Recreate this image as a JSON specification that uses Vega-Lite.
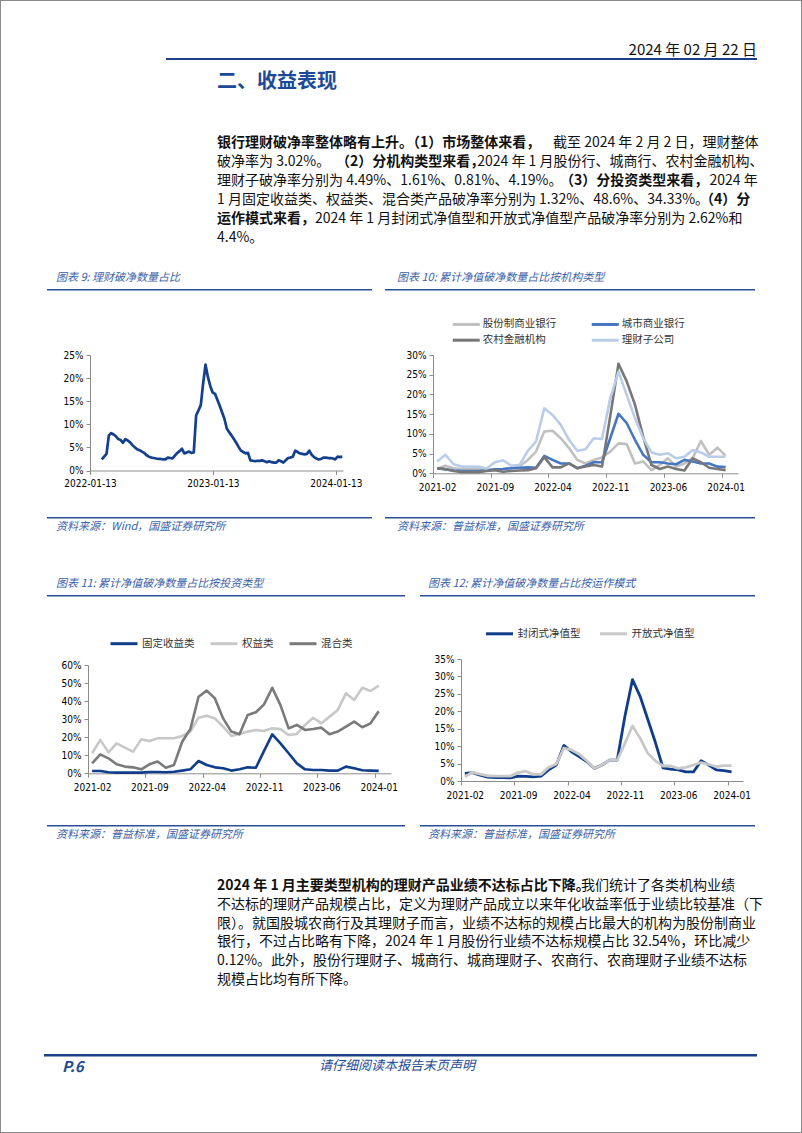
{
  "$schema": "https://vega.github.io/schema/vega-lite/v6.json",
  "padding": 0,
  "background": "#ffffff",
  "bounds": "flush",
  "spacing": 0,
  "resolve": {"scale": {"color": "independent"}, "legend": {"color": "independent"}},
  "config": {
    "view": {"stroke": null},
    "font": "Noto Sans CJK SC",
    "axis": {"labelFont": "'DejaVu Sans Condensed', 'Liberation Sans', sans-serif", "labelFontSize": 10, "labelColor": "#000000", "domainColor": "#8C8C8C", "tickColor": "#8C8C8C", "tickSize": 4, "grid": false, "labelPadding": 3},
    "axisX": {"labelPadding": 5},
    "legend": {"labelFont": "Noto Sans CJK SC", "labelFontSize": 10.5, "labelColor": "#333333", "symbolType": "stroke", "symbolStrokeWidth": 3, "symbolSize": 729, "labelOffset": 3, "title": null},
    "title": {"font": "Noto Sans CJK SC", "fontSize": 11, "fontStyle": "italic", "fontWeight": "normal", "color": "#3A62A8", "anchor": "start", "frame": "group"}
  },
  "vconcat": [
    {"hconcat": [
      {"width": 1, "height": 1133, "data": {"values": []}, "mark": "text", "encoding": {}, "view": {"fill": "#8A8A8A", "stroke": null}}
    ], "spacing": 0, "bounds": "flush"},
    {"hconcat": [
      {"width": 801, "height": 1, "data": {"values": []}, "mark": "text", "encoding": {}},
      {"width": 1, "height": 1133, "data": {"values": []}, "mark": "text", "encoding": {}, "view": {"fill": "#8A8A8A", "stroke": null}}
    ], "spacing": 0, "bounds": "flush"},
    {"hconcat": [
      {"width": 802, "height": 1, "data": {"values": []}, "mark": "text", "encoding": {}, "view": {"fill": "#8A8A8A", "stroke": null}}
    ], "spacing": 0, "bounds": "flush"},
    {"width": 1, "height": 58, "data": {"values": []}, "mark": "text", "encoding": {}},
    {"hconcat": [
      {"width": 166, "height": 2, "data": {"values": []}, "mark": "text", "encoding": {}},
      {"width": 591, "height": 2, "data": {"values": []}, "mark": "text", "encoding": {}, "view": {"fill": "#1D3F87", "stroke": null},
       "title": {"text": "2024 年 02 月 22 日", "orient": "top", "anchor": "end", "offset": 0, "fontSize": 15, "fontStyle": "normal", "color": "#111111"}}
    ], "spacing": 0, "bounds": "flush"},
    {"width": 1, "height": 75, "data": {"values": []}, "mark": "text", "encoding": {}},
    {"hconcat": [
      {"width": 217, "height": 114.6, "data": {"values": []}, "mark": "text", "encoding": {}},
      {"width": 540, "height": 114.6,
       "title": {"text": "二、收益表现", "orient": "top", "anchor": "start", "offset": 41, "fontSize": 20, "fontStyle": "normal", "fontWeight": "bold", "color": "#1C4A98"},
       "data": {"values": [
         {"line": 1, "r": "\u200b\u3000\u3000\u3000\u3000\u3000\u3000\u3000\u3000\u3000\u3000\u3000\u3000\u3000\u3000\u3000\u3000\u3000\u3000\u3000\u3000\u3000\u3000\u3000\u3000截至 2024 年 2 月 2 日，理财整体", "b": "银行理财破净率整体略有上升。（1）市场整体来看，"},
         {"line": 2, "r": "破净率为 3.02%。\u3000\u3000\u3000\u3000\u3000\u3000\u3000\u3000\u3000\u3000\u30002024 年 1 月股份行、城商行、农村金融机构、", "b": "\u200b\u3000\u3000\u3000\u3000\u3000\u3000\u3000\u3000\u2002（2）分机构类型来看，"},
         {"line": 3, "r": "理财子破净率分别为 4.49%、1.61%、0.81%、4.19%。\u3000\u3000\u3000\u3000\u3000\u3000\u3000\u3000\u3000\u3000\u30002024 年", "b": "\u200b\u3000\u3000\u3000\u3000\u3000\u3000\u3000\u3000\u3000\u3000\u3000\u3000\u3000\u3000\u3000\u3000\u3000\u3000\u3000\u3000\u3000\u3000\u3000\u3000\u3000（3）分投资类型来看，"},
         {"line": 4, "r": "1 月固定收益类、权益类、混合类产品破净率分别为 1.32%、48.6%、34.33%。", "b": "\u200b\u3000\u3000\u3000\u3000\u3000\u3000\u3000\u3000\u3000\u3000\u3000\u3000\u3000\u3000\u3000\u3000\u3000\u3000\u3000\u3000\u3000\u3000\u3000\u3000\u3000\u3000\u3000\u3000\u3000\u3000\u3000\u3000\u3000\u3000\u2002（4）分"},
         {"line": 5, "r": "\u200b\u3000\u3000\u3000\u3000\u3000\u3000\u30002024 年 1 月封闭式净值型和开放式净值型产品破净率分别为 2.62%和", "b": "运作模式来看，"},
         {"line": 6, "r": "4.4%。", "b": ""}
       ]},
       "encoding": {
         "x": {"value": 0},
         "y": {"field": "line", "type": "ordinal", "axis": null, "scale": {"type": "point", "padding": 0.5}}
       },
       "layer": [
         {"mark": {"type": "text", "align": "left", "baseline": "middle", "font": "Noto Sans CJK SC", "fontSize": 14, "color": "#111111"}, "encoding": {"text": {"field": "r"}}},
         {"mark": {"type": "text", "align": "left", "baseline": "middle", "font": "Noto Sans CJK SC", "fontSize": 14, "fontWeight": "bold", "color": "#111111"}, "encoding": {"text": {"field": "b"}}}
       ]}
    ], "spacing": 0, "bounds": "flush"},
    {"width": 1, "height": 156, "data": {"values": []}, "mark": "text", "encoding": {}},
    {"hconcat": [
      {"width": 47, "height": 2, "data": {"values": []}, "mark": "text", "encoding": {}},
      {"width": 325, "height": 1.5, "data": {"values": []}, "mark": "text", "encoding": {}, "view": {"fill": "#2A4F96", "stroke": null},
       "title": {"text": "图表 9:  理财破净数量占比", "orient": "top", "offset": 6, "dx": 9}},
      {"width": 13, "height": 2, "data": {"values": []}, "mark": "text", "encoding": {}},
      {"width": 370, "height": 1.5, "data": {"values": []}, "mark": "text", "encoding": {}, "view": {"fill": "#2A4F96", "stroke": null},
       "title": {"text": "图表 10:  累计净值破净数量占比按机构类型", "orient": "top", "offset": 6, "dx": 12}}
    ], "spacing": 0, "bounds": "flush"},
    {"width": 1, "height": 66, "data": {"values": []}, "mark": "text", "encoding": {}},
    {"hconcat": [
      {"width": 90, "height": 1, "data": {"values": []}, "mark": "text", "encoding": {}},
      {"width": 253, "height": 115.5,
       "data": {"values": [
         {"d": "2022-02-17", "v": 2.4}, {"d": "2022-02-24", "v": 3.0}, {"d": "2022-03-03", "v": 3.6}, {"d": "2022-03-10", "v": 7.6}, {"d": "2022-03-17", "v": 8.1}, {"d": "2022-03-24", "v": 7.8}, {"d": "2022-03-31", "v": 7.4}, {"d": "2022-04-07", "v": 6.8}, {"d": "2022-04-14", "v": 6.6}, {"d": "2022-04-21", "v": 6.0}, {"d": "2022-04-28", "v": 6.8}, {"d": "2022-05-05", "v": 6.5}, {"d": "2022-05-12", "v": 6.1}, {"d": "2022-05-19", "v": 5.5}, {"d": "2022-05-26", "v": 5.0}, {"d": "2022-06-02", "v": 4.6}, {"d": "2022-06-09", "v": 4.4}, {"d": "2022-06-16", "v": 4.1}, {"d": "2022-06-23", "v": 3.8}, {"d": "2022-06-30", "v": 3.3}, {"d": "2022-07-07", "v": 3.0}, {"d": "2022-07-14", "v": 2.8}, {"d": "2022-07-21", "v": 2.7}, {"d": "2022-07-28", "v": 2.6}, {"d": "2022-08-04", "v": 2.5}, {"d": "2022-08-11", "v": 2.5}, {"d": "2022-08-18", "v": 2.4}, {"d": "2022-08-25", "v": 2.4}, {"d": "2022-09-01", "v": 2.8}, {"d": "2022-09-08", "v": 2.7}, {"d": "2022-09-15", "v": 2.6}, {"d": "2022-09-22", "v": 3.2}, {"d": "2022-09-29", "v": 3.8}, {"d": "2022-10-06", "v": 4.2}, {"d": "2022-10-13", "v": 4.7}, {"d": "2022-10-20", "v": 3.7}, {"d": "2022-10-27", "v": 3.9}, {"d": "2022-11-03", "v": 4.1}, {"d": "2022-11-10", "v": 3.8}, {"d": "2022-11-17", "v": 3.9}, {"d": "2022-11-24", "v": 11.9}, {"d": "2022-12-01", "v": 13.0}, {"d": "2022-12-08", "v": 14.2}, {"d": "2022-12-15", "v": 19.0}, {"d": "2022-12-22", "v": 22.9}, {"d": "2022-12-29", "v": 20.2}, {"d": "2023-01-05", "v": 18.3}, {"d": "2023-01-12", "v": 16.9}, {"d": "2023-01-19", "v": 16.6}, {"d": "2023-01-26", "v": 15.3}, {"d": "2023-02-02", "v": 14.0}, {"d": "2023-02-09", "v": 12.6}, {"d": "2023-02-16", "v": 11.2}, {"d": "2023-02-23", "v": 9.1}, {"d": "2023-03-02", "v": 8.3}, {"d": "2023-03-09", "v": 7.6}, {"d": "2023-03-16", "v": 6.8}, {"d": "2023-03-23", "v": 6.0}, {"d": "2023-03-30", "v": 5.1}, {"d": "2023-04-06", "v": 4.3}, {"d": "2023-04-13", "v": 4.0}, {"d": "2023-04-20", "v": 3.7}, {"d": "2023-04-27", "v": 3.8}, {"d": "2023-05-04", "v": 2.2}, {"d": "2023-05-11", "v": 2.1}, {"d": "2023-05-18", "v": 2.0}, {"d": "2023-05-25", "v": 2.1}, {"d": "2023-06-01", "v": 2.1}, {"d": "2023-06-08", "v": 2.2}, {"d": "2023-06-15", "v": 2.0}, {"d": "2023-06-22", "v": 1.8}, {"d": "2023-06-29", "v": 2.0}, {"d": "2023-07-06", "v": 1.8}, {"d": "2023-07-13", "v": 1.7}, {"d": "2023-07-20", "v": 1.7}, {"d": "2023-07-27", "v": 2.2}, {"d": "2023-08-03", "v": 2.0}, {"d": "2023-08-10", "v": 1.7}, {"d": "2023-08-17", "v": 2.2}, {"d": "2023-08-24", "v": 2.7}, {"d": "2023-08-31", "v": 2.8}, {"d": "2023-09-07", "v": 3.0}, {"d": "2023-09-14", "v": 4.3}, {"d": "2023-09-21", "v": 4.0}, {"d": "2023-09-28", "v": 3.7}, {"d": "2023-10-05", "v": 3.6}, {"d": "2023-10-12", "v": 3.5}, {"d": "2023-10-19", "v": 3.6}, {"d": "2023-10-26", "v": 4.3}, {"d": "2023-11-02", "v": 3.4}, {"d": "2023-11-09", "v": 2.9}, {"d": "2023-11-16", "v": 2.6}, {"d": "2023-11-23", "v": 2.4}, {"d": "2023-11-30", "v": 2.5}, {"d": "2023-12-07", "v": 2.8}, {"d": "2023-12-14", "v": 2.8}, {"d": "2023-12-21", "v": 2.7}, {"d": "2023-12-28", "v": 2.7}, {"d": "2024-01-04", "v": 2.6}, {"d": "2024-01-11", "v": 2.4}, {"d": "2024-01-18", "v": 3.0}, {"d": "2024-01-25", "v": 2.9}, {"d": "2024-02-01", "v": 3.0}
       ]},
       "mark": {"type": "line", "color": "#133F8D", "strokeWidth": 2.7, "strokeJoin": "round"},
       "encoding": {
         "x": {"field": "d", "type": "temporal", "title": null,
               "scale": {"domain": [{"year": 2022, "month": 1, "date": 13}, {"year": 2024, "month": 2, "date": 3}], "nice": false},
               "axis": {"values": [{"year": 2022, "month": 1, "date": 13}, {"year": 2023, "month": 1, "date": 13}, {"year": 2024, "month": 1, "date": 13}], "format": "%Y-%m-%d", "labelFlush": false, "labelOverlap": false, "labelPadding": 4}},
         "y": {"field": "v", "type": "quantitative", "title": null, "scale": {"domain": [0, 25], "nice": false},
               "axis": {"values": [0, 5, 10, 15, 20, 25], "labelExpr": "datum.value + '%'"}}
       }},
      {"width": 90, "height": 1, "data": {"values": []}, "mark": "text", "encoding": {}},
      {"width": 305, "height": 118.3,
       "data": {"values": [
         {"m": "2021-02", "股份制商业银行": 1.1, "城市商业银行": 1.3, "农村金融机构": 1.3, "理财子公司": 3.0},
         {"m": "2021-03", "股份制商业银行": 1.9, "城市商业银行": 1.0, "农村金融机构": 1.1, "理财子公司": 4.7},
         {"m": "2021-04", "股份制商业银行": 1.3, "城市商业银行": 0.7, "农村金融机构": 0.6, "理财子公司": 2.3},
         {"m": "2021-05", "股份制商业银行": 1.1, "城市商业银行": 0.6, "农村金融机构": 0.3, "理财子公司": 1.7},
         {"m": "2021-06", "股份制商业银行": 1.1, "城市商业银行": 0.6, "农村金融机构": 0.3, "理财子公司": 1.7},
         {"m": "2021-07", "股份制商业银行": 1.1, "城市商业银行": 0.6, "农村金融机构": 0.3, "理财子公司": 1.7},
         {"m": "2021-08", "股份制商业银行": 0.8, "城市商业银行": 0.7, "农村金融机构": 0.6, "理财子公司": 1.2},
         {"m": "2021-09", "股份制商业银行": 1.0, "城市商业银行": 1.0, "农村金融机构": 0.8, "理财子公司": 2.8},
         {"m": "2021-10", "股份制商业银行": 1.1, "城市商业银行": 1.1, "农村金融机构": 0.4, "理财子公司": 3.3},
         {"m": "2021-11", "股份制商业银行": 1.3, "城市商业银行": 1.3, "农村金融机构": 0.6, "理财子公司": 1.9},
         {"m": "2021-12", "股份制商业银行": 1.7, "城市商业银行": 1.4, "农村金融机构": 0.7, "理财子公司": 2.1},
         {"m": "2022-01", "股份制商业银行": 3.4, "城市商业银行": 1.5, "农村金融机构": 0.8, "理财子公司": 5.7},
         {"m": "2022-02", "股份制商业银行": 5.5, "城市商业银行": 1.4, "农村金融机构": 1.3, "理财子公司": 8.1},
         {"m": "2022-03", "股份制商业银行": 10.6, "城市商业银行": 4.4, "农村金融机构": 4.1, "理财子公司": 16.5},
         {"m": "2022-04", "股份制商业银行": 10.8, "城市商业银行": 3.4, "农村金融机构": 1.5, "理财子公司": 14.8},
         {"m": "2022-05", "股份制商业银行": 8.9, "城市商业银行": 2.5, "农村金融机构": 1.5, "理财子公司": 12.3},
         {"m": "2022-06", "股份制商业银行": 6.4, "城市商业银行": 2.5, "农村金融机构": 2.5, "理财子公司": 8.5},
         {"m": "2022-07", "股份制商业银行": 3.4, "城市商业银行": 1.3, "农村金融机构": 1.3, "理财子公司": 5.7},
         {"m": "2022-08", "股份制商业银行": 2.5, "城市商业银行": 1.9, "农村金融机构": 1.7, "理财子公司": 6.1},
         {"m": "2022-09", "股份制商业银行": 3.4, "城市商业银行": 2.8, "农村金融机构": 2.1, "理财子公司": 8.9},
         {"m": "2022-10", "股份制商业银行": 4.0, "城市商业银行": 2.8, "农村金融机构": 1.7, "理财子公司": 8.7},
         {"m": "2022-11", "股份制商业银行": 5.5, "城市商业银行": 8.9, "农村金融机构": 14.5, "理财子公司": 19.0},
         {"m": "2022-12", "股份制商业银行": 7.6, "城市商业银行": 15.1, "农村金融机构": 27.8, "理财子公司": 25.8},
         {"m": "2023-01", "股份制商业银行": 7.4, "城市商业银行": 12.7, "农村金融机构": 23.3, "理财子公司": 19.9},
         {"m": "2023-02", "股份制商业银行": 2.5, "城市商业银行": 8.5, "农村金融机构": 17.4, "理财子公司": 14.0},
         {"m": "2023-03", "股份制商业银行": 3.0, "城市商业银行": 4.7, "农村金融机构": 9.3, "理财子公司": 8.9},
         {"m": "2023-04", "股份制商业银行": 0.8, "城市商业银行": 2.8, "农村金融机构": 2.1, "理财子公司": 5.3},
         {"m": "2023-05", "股份制商业银行": 2.1, "城市商业银行": 2.8, "农村金融机构": 1.1, "理财子公司": 4.7},
         {"m": "2023-06", "股份制商业银行": 3.8, "城市商业银行": 2.5, "农村金融机构": 1.7, "理财子公司": 5.1},
         {"m": "2023-07", "股份制商业银行": 1.7, "城市商业银行": 2.3, "农村金融机构": 1.1, "理财子公司": 3.8},
         {"m": "2023-08", "股份制商业银行": 2.5, "城市商业银行": 3.4, "农村金融机构": 0.7, "理财子公司": 4.2},
         {"m": "2023-09", "股份制商业银行": 3.8, "城市商业银行": 3.0, "农村金融机构": 3.8, "理财子公司": 5.9},
         {"m": "2023-10", "股份制商业银行": 8.2, "城市商业银行": 2.5, "农村金融机构": 2.8, "理财子公司": 5.3},
         {"m": "2023-11", "股份制商业银行": 4.7, "城市商业银行": 2.5, "农村金融机构": 1.4, "理财子公司": 4.2},
         {"m": "2023-12", "股份制商业银行": 6.5, "城市商业银行": 1.7, "农村金融机构": 1.1, "理财子公司": 4.2},
         {"m": "2024-01", "股份制商业银行": 4.49, "城市商业银行": 1.61, "农村金融机构": 0.81, "理财子公司": 4.19}
       ]},
       "transform": [{"fold": ["股份制商业银行", "城市商业银行", "农村金融机构", "理财子公司"], "as": ["s", "v"]}],
       "mark": {"type": "line", "strokeWidth": 2.6, "strokeJoin": "round"},
       "encoding": {
         "x": {"field": "m", "type": "ordinal", "title": null,
               "scale": {"type": "point", "padding": 0.5, "domain": ["2021-02","2021-03","2021-04","2021-05","2021-06","2021-07","2021-08","2021-09","2021-10","2021-11","2021-12","2022-01","2022-02","2022-03","2022-04","2022-05","2022-06","2022-07","2022-08","2022-09","2022-10","2022-11","2022-12","2023-01","2023-02","2023-03","2023-04","2023-05","2023-06","2023-07","2023-08","2023-09","2023-10","2023-11","2023-12","2024-01","2024-02"]},
               "axis": {"values": ["2021-02","2021-09","2022-04","2022-11","2023-06","2024-01"], "labelAngle": 0, "tickOffset": -4.12, "labelOffset": 4.12}},
         "y": {"field": "v", "type": "quantitative", "title": null, "scale": {"domain": [0, 30], "nice": false},
               "axis": {"values": [0, 5, 10, 15, 20, 25, 30], "labelExpr": "datum.value + '%'"}},
         "color": {"field": "s", "type": "nominal",
                   "scale": {"domain": ["股份制商业银行", "城市商业银行", "农村金融机构", "理财子公司"], "range": ["#C0C0C0", "#4677C2", "#777777", "#BACDE8"]},
                   "legend": {"orient": "none", "legendX": 24.75, "legendY": -39.3, "columns": 2, "direction": "horizontal", "symbolType": "M-2,0H2", "symbolSize": 182.25, "labelOffset": 8, "columnPadding": 29, "rowPadding": 1}}
       }}
    ], "spacing": 0, "bounds": "flush", "resolve": {"scale": {"color": "independent"}, "legend": {"color": "independent"}}},
    {"width": 1, "height": 162, "data": {"values": []}, "mark": "text", "encoding": {}},
    {"hconcat": [
      {"width": 47, "height": 2, "data": {"values": []}, "mark": "text", "encoding": {}},
      {"width": 325, "height": 1.5, "data": {"values": []}, "mark": "text", "encoding": {}, "view": {"fill": "#2A4F96", "stroke": null},
       "title": {"text": "资料来源：Wind，国盛证券研究所", "orient": "bottom", "offset": 2, "dx": 9}},
      {"width": 13, "height": 2, "data": {"values": []}, "mark": "text", "encoding": {}},
      {"width": 370, "height": 1.5, "data": {"values": []}, "mark": "text", "encoding": {}, "view": {"fill": "#2A4F96", "stroke": null},
       "title": {"text": "资料来源：普益标准，国盛证券研究所", "orient": "bottom", "offset": 2, "dx": 12}}
    ], "spacing": 0, "bounds": "flush"},
    {"width": 1, "height": 78, "data": {"values": []}, "mark": "text", "encoding": {}},
    {"hconcat": [
      {"width": 47, "height": 2, "data": {"values": []}, "mark": "text", "encoding": {}},
      {"width": 358, "height": 1.5, "data": {"values": []}, "mark": "text", "encoding": {}, "view": {"fill": "#2A4F96", "stroke": null},
       "title": {"text": "图表 11:  累计净值破净数量占比按投资类型", "orient": "top", "offset": 6, "dx": 9}},
      {"width": 15, "height": 2, "data": {"values": []}, "mark": "text", "encoding": {}},
      {"width": 335, "height": 1.5, "data": {"values": []}, "mark": "text", "encoding": {}, "view": {"fill": "#2A4F96", "stroke": null},
       "title": {"text": "图表 12:  累计净值破净数量占比按运作模式", "orient": "top", "offset": 6, "dx": 8}}
    ], "spacing": 0, "bounds": "flush"},
    {"width": 1, "height": 64, "data": {"values": []}, "mark": "text", "encoding": {}},
    {"hconcat": [
      {"width": 88, "height": 1, "data": {"values": []}, "mark": "text", "encoding": {}},
      {"vconcat": [
        {"width": 1, "height": 6, "data": {"values": []}, "mark": "text", "encoding": {}},
        {"width": 303, "height": 108.3,
         "data": {"values": [
           {"m": "2021-02", "固定收益类": 1.3, "权益类": 11.1, "混合类": 5.5},
           {"m": "2021-03", "固定收益类": 1.3, "权益类": 18.5, "混合类": 10.5},
           {"m": "2021-04", "固定收益类": 0.6, "权益类": 11.6, "混合类": 8.3},
           {"m": "2021-05", "固定收益类": 0.4, "权益类": 16.6, "混合类": 5.0},
           {"m": "2021-06", "固定收益类": 0.4, "权益类": 14.2, "混合类": 3.7},
           {"m": "2021-07", "固定收益类": 0.4, "权益类": 12.0, "混合类": 3.3},
           {"m": "2021-08", "固定收益类": 0.4, "权益类": 18.8, "混合类": 2.2},
           {"m": "2021-09", "固定收益类": 0.7, "权益类": 17.9, "混合类": 5.0},
           {"m": "2021-10", "固定收益类": 0.7, "权益类": 19.4, "混合类": 6.5},
           {"m": "2021-11", "固定收益类": 0.6, "权益类": 19.4, "混合类": 3.1},
           {"m": "2021-12", "固定收益类": 0.9, "权益类": 19.4, "混合类": 4.6},
           {"m": "2022-01", "固定收益类": 1.5, "权益类": 20.7, "混合类": 17.5},
           {"m": "2022-02", "固定收益类": 2.2, "权益类": 23.1, "混合类": 24.5},
           {"m": "2022-03", "固定收益类": 6.8, "权益类": 30.8, "混合类": 42.4},
           {"m": "2022-04", "固定收益类": 4.6, "权益类": 31.9, "混合类": 45.8},
           {"m": "2022-05", "固定收益类": 3.3, "权益类": 30.4, "混合类": 41.5},
           {"m": "2022-06", "固定收益类": 2.8, "权益类": 25.8, "混合类": 30.4},
           {"m": "2022-07", "固定收益类": 1.5, "权益类": 20.7, "混合类": 23.1},
           {"m": "2022-08", "固定收益类": 2.2, "权益类": 21.8, "混合类": 21.6},
           {"m": "2022-09", "固定收益类": 3.3, "权益类": 23.1, "混合类": 32.3},
           {"m": "2022-10", "固定收益类": 3.1, "权益类": 24.0, "混合类": 33.8},
           {"m": "2022-11", "固定收益类": 12.4, "权益类": 23.4, "混合类": 38.2},
           {"m": "2022-12", "固定收益类": 21.6, "权益类": 24.9, "混合类": 47.4},
           {"m": "2023-01", "固定收益类": 16.6, "权益类": 24.5, "混合类": 37.8},
           {"m": "2023-02", "固定收益类": 11.1, "权益类": 21.2, "混合类": 24.9},
           {"m": "2023-03", "固定收益类": 5.5, "权益类": 21.8, "混合类": 26.8},
           {"m": "2023-04", "固定收益类": 2.2, "权益类": 26.8, "混合类": 24.0},
           {"m": "2023-05", "固定收益类": 1.8, "权益类": 30.8, "混合类": 24.5},
           {"m": "2023-06", "固定收益类": 1.8, "权益类": 27.7, "混合类": 25.3},
           {"m": "2023-07", "固定收益类": 1.5, "权益类": 31.4, "混合类": 21.6},
           {"m": "2023-08", "固定收益类": 1.5, "权益类": 35.1, "混合类": 23.1},
           {"m": "2023-09", "固定收益类": 3.7, "权益类": 44.3, "混合类": 25.8},
           {"m": "2023-10", "固定收益类": 2.8, "权益类": 40.6, "混合类": 28.6},
           {"m": "2023-11", "固定收益类": 1.7, "权益类": 47.4, "混合类": 25.5},
           {"m": "2023-12", "固定收益类": 1.5, "权益类": 45.6, "混合类": 27.7},
           {"m": "2024-01", "固定收益类": 1.32, "权益类": 48.6, "混合类": 34.33}
         ]},
         "transform": [{"fold": ["固定收益类", "权益类", "混合类"], "as": ["s", "v"]}],
         "mark": {"type": "line", "strokeWidth": 2.6, "strokeJoin": "round"},
         "encoding": {
           "x": {"field": "m", "type": "ordinal", "title": null,
                 "scale": {"type": "point", "padding": 0.5, "domain": ["2021-02","2021-03","2021-04","2021-05","2021-06","2021-07","2021-08","2021-09","2021-10","2021-11","2021-12","2022-01","2022-02","2022-03","2022-04","2022-05","2022-06","2022-07","2022-08","2022-09","2022-10","2022-11","2022-12","2023-01","2023-02","2023-03","2023-04","2023-05","2023-06","2023-07","2023-08","2023-09","2023-10","2023-11","2023-12","2024-01","2024-02"]},
                 "axis": {"values": ["2021-02","2021-09","2022-04","2022-11","2023-06","2024-01"], "labelAngle": 0, "tickOffset": -4.1, "labelOffset": 4.1}},
           "y": {"field": "v", "type": "quantitative", "title": null, "scale": {"domain": [0, 60], "nice": false},
                 "axis": {"values": [0, 10, 20, 30, 40, 50, 60], "labelExpr": "datum.value + '%'"}},
           "color": {"field": "s", "type": "nominal",
                     "scale": {"domain": ["固定收益类", "权益类", "混合类"], "range": ["#0F3D8C", "#C8C8C8", "#7A7A7A"]},
                     "legend": {"orient": "none", "legendX": 21, "legendY": -36.3, "direction": "horizontal", "columnPadding": 9}}
         }}
      ], "spacing": 0, "bounds": "flush", "resolve": {"scale": {"color": "independent"}, "legend": {"color": "independent"}}},
      {"width": 373, "height": 1, "data": {"values": []}, "mark": "text", "encoding": {}},
      {"width": 282, "height": 122,
       "data": {"values": [
         {"m": "2021-02", "封闭式净值型": 2.2, "开放式净值型": 1.2},
         {"m": "2021-03", "封闭式净值型": 2.4, "开放式净值型": 2.5},
         {"m": "2021-04", "封闭式净值型": 1.7, "开放式净值型": 2.0},
         {"m": "2021-05", "封闭式净值型": 1.1, "开放式净值型": 1.5},
         {"m": "2021-06", "封闭式净值型": 1.0, "开放式净值型": 1.4},
         {"m": "2021-07", "封闭式净值型": 1.0, "开放式净值型": 1.4},
         {"m": "2021-08", "封闭式净值型": 0.9, "开放式净值型": 1.4},
         {"m": "2021-09", "封闭式净值型": 1.4, "开放式净值型": 2.4},
         {"m": "2021-10", "封闭式净值型": 1.3, "开放式净值型": 2.8},
         {"m": "2021-11", "封闭式净值型": 1.2, "开放式净值型": 1.9},
         {"m": "2021-12", "封闭式净值型": 1.4, "开放式净值型": 1.9},
         {"m": "2022-01", "封闭式净值型": 3.2, "开放式净值型": 3.9},
         {"m": "2022-02", "封闭式净值型": 4.6, "开放式净值型": 4.9},
         {"m": "2022-03", "封闭式净值型": 10.2, "开放式净值型": 9.4},
         {"m": "2022-04", "封闭式净值型": 8.4, "开放式净值型": 8.9},
         {"m": "2022-05", "封闭式净值型": 7.0, "开放式净值型": 7.7},
         {"m": "2022-06", "封闭式净值型": 5.6, "开放式净值型": 5.8},
         {"m": "2022-07", "封闭式净值型": 3.6, "开放式净值型": 3.6},
         {"m": "2022-08", "封闭式净值型": 4.6, "开放式净值型": 4.6},
         {"m": "2022-09", "封闭式净值型": 6.0, "开放式净值型": 6.0},
         {"m": "2022-10", "封闭式净值型": 6.0, "开放式净值型": 6.0},
         {"m": "2022-11", "封闭式净值型": 18.5, "开放式净值型": 10.8},
         {"m": "2022-12", "封闭式净值型": 29.1, "开放式净值型": 15.8},
         {"m": "2023-01", "封闭式净值型": 24.3, "开放式净值型": 12.3},
         {"m": "2023-02", "封闭式净值型": 17.7, "开放式净值型": 8.0},
         {"m": "2023-03", "封闭式净值型": 11.1, "开放式净值型": 5.8},
         {"m": "2023-04", "封闭式净值型": 3.8, "开放式净值型": 4.3},
         {"m": "2023-05", "封闭式净值型": 3.4, "开放式净值型": 4.3},
         {"m": "2023-06", "封闭式净值型": 3.2, "开放式净值型": 3.6},
         {"m": "2023-07", "封闭式净值型": 2.6, "开放式净值型": 3.9},
         {"m": "2023-08", "封闭式净值型": 2.6, "开放式净值型": 4.6},
         {"m": "2023-09", "封闭式净值型": 5.8, "开放式净值型": 5.3},
         {"m": "2023-10", "封闭式净值型": 4.6, "开放式净值型": 4.8},
         {"m": "2023-11", "封闭式净值型": 3.2, "开放式净值型": 4.1},
         {"m": "2023-12", "封闭式净值型": 3.0, "开放式净值型": 4.4},
         {"m": "2024-01", "封闭式净值型": 2.62, "开放式净值型": 4.4}
       ]},
       "transform": [{"fold": ["封闭式净值型", "开放式净值型"], "as": ["s", "v"]}],
       "mark": {"type": "line", "strokeWidth": 2.8, "strokeJoin": "round"},
       "encoding": {
         "x": {"field": "m", "type": "ordinal", "title": null,
               "scale": {"type": "point", "padding": 0.5, "domain": ["2021-02","2021-03","2021-04","2021-05","2021-06","2021-07","2021-08","2021-09","2021-10","2021-11","2021-12","2022-01","2022-02","2022-03","2022-04","2022-05","2022-06","2022-07","2022-08","2022-09","2022-10","2022-11","2022-12","2023-01","2023-02","2023-03","2023-04","2023-05","2023-06","2023-07","2023-08","2023-09","2023-10","2023-11","2023-12","2024-01","2024-02"]},
               "axis": {"values": ["2021-02","2021-09","2022-04","2022-11","2023-06","2024-01"], "labelAngle": 0, "tickOffset": -3.81, "labelOffset": 3.81}},
         "y": {"field": "v", "type": "quantitative", "title": null, "scale": {"domain": [0, 35], "nice": false},
               "axis": {"values": [0, 5, 10, 15, 20, 25, 30, 35], "labelExpr": "datum.value + '%'"}},
         "color": {"field": "s", "type": "nominal",
                   "scale": {"domain": ["封闭式净值型", "开放式净值型"], "range": ["#0F3D8C", "#C8C8C8"]},
                   "legend": {"orient": "none", "legendX": 23.5, "legendY": -40.2, "direction": "horizontal", "columnPadding": 13}}
       }}
    ], "spacing": 0, "bounds": "flush", "resolve": {"scale": {"color": "independent"}, "legend": {"color": "independent"}}},
    {"width": 1, "height": 166, "data": {"values": []}, "mark": "text", "encoding": {}},
    {"hconcat": [
      {"width": 47, "height": 2, "data": {"values": []}, "mark": "text", "encoding": {}},
      {"width": 358, "height": 1.5, "data": {"values": []}, "mark": "text", "encoding": {}, "view": {"fill": "#2A4F96", "stroke": null},
       "title": {"text": "资料来源：普益标准，国盛证券研究所", "orient": "bottom", "offset": 2, "dx": 9}},
      {"width": 15, "height": 2, "data": {"values": []}, "mark": "text", "encoding": {}},
      {"width": 335, "height": 1.5, "data": {"values": []}, "mark": "text", "encoding": {}, "view": {"fill": "#2A4F96", "stroke": null},
       "title": {"text": "资料来源：普益标准，国盛证券研究所", "orient": "bottom", "offset": 2, "dx": 8}}
    ], "spacing": 0, "bounds": "flush"},
    {"width": 1, "height": 52, "data": {"values": []}, "mark": "text", "encoding": {}},
    {"hconcat": [
      {"width": 217, "height": 112.2, "data": {"values": []}, "mark": "text", "encoding": {}},
      {"width": 540, "height": 112.2,
       "data": {"values": [
         {"line": 1, "r": "\u200b\u3000\u3000\u3000\u3000\u3000\u3000\u3000\u3000\u3000\u3000\u3000\u3000\u3000\u3000\u3000\u3000\u3000\u3000\u3000\u3000\u3000\u3000\u3000\u3000\u3000\u3000我们统计了各类机构业绩", "b": "2024 年 1 月主要类型机构的理财产品业绩不达标占比下降。"},
         {"line": 2, "r": "不达标的理财产品规模占比，定义为理财产品成立以来年化收益率低于业绩比较基准（下", "b": ""},
         {"line": 3, "r": "限）。就国股城农商行及其理财子而言，业绩不达标的规模占比最大的机构为股份制商业", "b": ""},
         {"line": 4, "r": "银行，不过占比略有下降，2024 年 1 月股份行业绩不达标规模占比 32.54%，环比减少", "b": ""},
         {"line": 5, "r": "0.12%。此外，股份行理财子、城商行、城商理财子、农商行、农商理财子业绩不达标", "b": ""},
         {"line": 6, "r": "规模占比均有所下降。", "b": ""}
       ]},
       "encoding": {
         "x": {"value": 0},
         "y": {"field": "line", "type": "ordinal", "axis": null, "scale": {"type": "point", "padding": 0.5}}
       },
       "layer": [
         {"mark": {"type": "text", "align": "left", "baseline": "middle", "font": "Noto Sans CJK SC", "fontSize": 14, "color": "#111111"}, "encoding": {"text": {"field": "r"}}},
         {"mark": {"type": "text", "align": "left", "baseline": "middle", "font": "Noto Sans CJK SC", "fontSize": 14, "fontWeight": "bold", "color": "#111111"}, "encoding": {"text": {"field": "b"}}}
       ]}
    ], "spacing": 0, "bounds": "flush"},
    {"width": 1, "height": 177, "data": {"values": []}, "mark": "text", "encoding": {}},
    {"hconcat": [
      {"width": 44, "height": 2.5, "data": {"values": []}, "mark": "text", "encoding": {}},
      {"width": 106, "height": 2.5, "data": {"values": []}, "mark": "text", "encoding": {}, "view": {"fill": "#1D3F87", "stroke": null},
       "title": {"text": "P.6", "orient": "bottom", "offset": 3, "dx": 18, "fontSize": 15, "fontWeight": "bold", "fontStyle": "italic", "color": "#1F4A96"}},
      {"width": 607, "height": 2.5, "data": {"values": []}, "mark": "text", "encoding": {}, "view": {"fill": "#1D3F87", "stroke": null},
       "title": {"text": "请仔细阅读本报告末页声明", "orient": "bottom", "offset": 3, "dx": 169, "fontSize": 13, "fontStyle": "italic", "color": "#1F4A96"}}
    ], "spacing": 0, "bounds": "flush"},
    {"width": 1, "height": 78, "data": {"values": []}, "mark": "text", "encoding": {}},
    {"hconcat": [
      {"width": 802, "height": 1, "data": {"values": []}, "mark": "text", "encoding": {}, "view": {"fill": "#8A8A8A", "stroke": null}}
    ], "spacing": 0, "bounds": "flush"},
    {"width": 1, "height": 1, "data": {"values": []}, "mark": "text", "encoding": {}}
  ]
}
